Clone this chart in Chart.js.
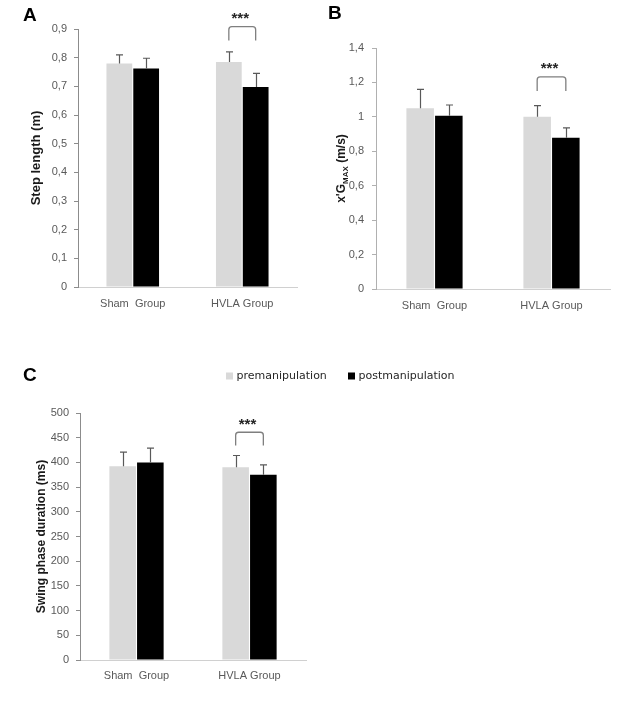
<!DOCTYPE html>
<html>
<head>
<meta charset="utf-8">
<script src="https://cdn.jsdelivr.net/npm/chart.js@4.4.1/dist/chart.umd.min.js"></script>
<style>
  html, body { margin: 0; padding: 0; background: #fff; }
  #page { position: relative; width: 638px; height: 704px; overflow: hidden; background: #fff; }
  .panel { position: absolute; }
</style>
</head>
<body>
<div id="page">
  <canvas id="chartA" class="panel" width="315" height="320" style="left:0;top:0"></canvas>
  <canvas id="chartB" class="panel" width="318" height="320" style="left:320px;top:0"></canvas>
  <canvas id="chartC" class="panel" width="638" height="344" style="left:0;top:360px"></canvas>
</div>
<script>
// categories and series
const groups = ["Sham  Group", "HVLA Group"];
const seriesNames = ["premanipulation", "postmanipulation"];

// A - step length (m)
const stepPre = [0.78, 0.785];
const stepPreSd = [0.03, 0.035];
const stepPost = [0.762, 0.698];
const stepPostSd = [0.036, 0.047];
const stepBracket = [0.86, 0.908];

// B - x'G max (m/s)
const xgPre = [1.05, 1.0];
const xgPreSd = [0.11, 0.065];
const xgPost = [1.007, 0.878];
const xgPostSd = [0.062, 0.058];
const xgBracket = [1.15, 1.232];

// C - swing phase duration (ms)
const swingPre = [392, 390];
const swingPreSd = [29, 24];
const swingPost = [400, 375];
const swingPostSd = [29, 20];
const swingBracket = [434, 461];

const preColor = "#d9d9d9";
const postColor = "#000000";

Chart.defaults.font.family = '"Liberation Sans", Arial, sans-serif';
Chart.defaults.color = "#595959";

const commaFmt = v => String(Math.round(v * 10) / 10).replace(".", ",");

const errorBars = {
  id: "errorBars",
  afterDatasetsDraw(chart) {
    const ctx = chart.ctx;
    const y = chart.scales.y;
    ctx.save();
    ctx.strokeStyle = "#595959";
    ctx.lineWidth = 1.2;
    chart.data.datasets.forEach((ds, i) => {
      chart.getDatasetMeta(i).data.forEach((bar, j) => {
        const x = Math.round(bar.x) + 0.5;
        const top = y.getPixelForValue(ds.data[j] + ds.errors[j]);
        ctx.beginPath();
        ctx.moveTo(x, bar.y);
        ctx.lineTo(x, top);
        ctx.moveTo(x - 3.5, top);
        ctx.lineTo(x + 3.5, top);
        ctx.stroke();
      });
    });
    ctx.restore();
  }
};

const sigBracket = {
  id: "sigBracket",
  afterDraw(chart, args, opts) {
    if (!opts.range) return;
    const ctx = chart.ctx;
    const y = chart.scales.y;
    const x1 = chart.getDatasetMeta(0).data[opts.index].x;
    const x2 = chart.getDatasetMeta(1).data[opts.index].x;
    const yLow = y.getPixelForValue(opts.range[0]);
    const yHigh = y.getPixelForValue(opts.range[1]);
    ctx.save();
    ctx.strokeStyle = "#7f7f7f";
    ctx.lineWidth = 1.3;
    ctx.beginPath();
    ctx.moveTo(x1, yLow);
    ctx.arcTo(x1, yHigh, x2, yHigh, 3);
    ctx.arcTo(x2, yHigh, x2, yLow, 3);
    ctx.lineTo(x2, yLow);
    ctx.stroke();
    ctx.fillStyle = "#262626";
    ctx.font = 'bold 15px "Liberation Sans", Arial, sans-serif';
    ctx.textAlign = "center";
    ctx.textBaseline = "alphabetic";
    ctx.fillText("***", (x1 + x2) / 2 - 2, yHigh - 3.5);
    ctx.restore();
  }
};

const panelLetter = {
  id: "panelLetter",
  afterDraw(chart, args, opts) {
    if (!opts.text) return;
    const ctx = chart.ctx;
    ctx.save();
    ctx.fillStyle = "#000";
    ctx.font = 'bold 19px "Liberation Sans", Arial, sans-serif';
    ctx.textBaseline = "alphabetic";
    ctx.fillText(opts.text, opts.x, opts.y);
    ctx.restore();
  }
};

// rotated y title with a subscript part (panel B)
function makeSubTitle(parts, x) {
  return {
    id: "subTitle",
    afterDraw(chart) {
      const ctx = chart.ctx;
      const area = chart.chartArea;
      ctx.save();
      ctx.fillStyle = "#1a1a1a";
      ctx.textBaseline = "alphabetic";
      const widths = parts.map(p => {
        ctx.font = "bold " + p[1] + 'px "Liberation Sans", Arial, sans-serif';
        return ctx.measureText(p[0]).width;
      });
      const total = widths.reduce((a, b) => a + b, 0);
      ctx.translate(x, (area.top + area.bottom) / 2);
      ctx.rotate(-Math.PI / 2);
      let pos = -total / 2;
      parts.forEach((p, i) => {
        ctx.font = "bold " + p[1] + 'px "Liberation Sans", Arial, sans-serif';
        ctx.fillText(p[0], pos, 4.5 + p[2]);
        pos += widths[i];
      });
      ctx.restore();
    }
  };
}

const topLegend = {
  id: "topLegend",
  afterDraw(chart, args, opts) {
    if (!opts.x) return;
    const ctx = chart.ctx;
    ctx.save();
    ctx.font = '11px "DejaVu Sans", sans-serif';
    ctx.textBaseline = "middle";
    chart.data.datasets.forEach((ds, i) => {
      ctx.fillStyle = ds.backgroundColor;
      ctx.fillRect(opts.x[i], opts.y - 3.5, 7, 7);
      ctx.fillStyle = "#262626";
      ctx.fillText(ds.label, opts.x[i] + 10.5, opts.y);
    });
    ctx.restore();
  }
};

function makeChart(id, p) {
  const extra = p.subTitle ? [makeSubTitle(p.subTitle.parts, p.subTitle.x)] : [];
  return new Chart(document.getElementById(id), {
    type: "bar",
    data: {
      labels: groups,
      datasets: [
        { label: seriesNames[0], data: p.pre, errors: p.preSd, backgroundColor: preColor,
          categoryPercentage: 0.49, barPercentage: 0.96 },
        { label: seriesNames[1], data: p.post, errors: p.postSd, backgroundColor: postColor,
          categoryPercentage: 0.49, barPercentage: 0.96 }
      ]
    },
    options: {
      responsive: false,
      animation: false,
      layout: { padding: p.padding },
      plugins: {
        legend: { display: false },
        tooltip: { enabled: false },
        sigBracket: { index: 1, range: p.bracket },
        panelLetter: p.letter,
        topLegend: p.legend || {}
      },
      scales: {
        x: {
          grid: { display: false },
          border: { display: true, color: "#d0d0d0", width: 1 },
          ticks: { font: { size: 11 }, color: "#595959", padding: p.xPad },
          afterFit: s => { s.height = p.xHeight; }
        },
        y: {
          min: 0,
          max: p.max,
          grid: { display: true, drawOnChartArea: false, drawTicks: true, tickLength: 4, color: p.axisColor },
          border: { display: true, color: p.axisColor, width: 1 },
          ticks: { stepSize: p.step, font: { size: 11 }, color: "#595959", padding: p.yPad, callback: p.fmt },
          title: p.title ? {
            display: true, text: p.title, color: "#1a1a1a",
            font: { size: p.titleSize, weight: "bold" },
            padding: { top: p.titlePad, bottom: 0 }
          } : { display: false },
          afterFit: s => { s.width = p.yWidth; }
        }
      }
    },
    plugins: [errorBars, sigBracket, panelLetter, topLegend].concat(extra)
  });
}

makeChart("chartA", {
  pre: stepPre, preSd: stepPreSd, post: stepPost, postSd: stepPostSd, bracket: stepBracket,
  max: 0.9, step: 0.1, fmt: commaFmt,
  padding: { left: 0, top: 29, right: 18, bottom: 0 },
  yWidth: 78, xHeight: 33, xPad: 2, yPad: 7, axisColor: "#8c8c8c",
  title: "Step length (m)", titleSize: 13, titlePad: 29,
  letter: { text: "A", x: 23, y: 21 }
});

makeChart("chartB", {
  pre: xgPre, preSd: xgPreSd, post: xgPost, postSd: xgPostSd, bracket: xgBracket,
  max: 1.4, step: 0.2, fmt: commaFmt,
  padding: { left: 0, top: 48, right: 28, bottom: 0 },
  yWidth: 56, xHeight: 31, xPad: 2, yPad: 8, axisColor: "#b0b0b0",
  subTitle: { x: 20, parts: [["x'G", 12, 0], ["MAX", 8, 3], [" (m/s)", 12, 0]] },
  letter: { text: "B", x: 8, y: 19 }
});

makeChart("chartC", {
  pre: swingPre, preSd: swingPreSd, post: swingPost, postSd: swingPostSd, bracket: swingBracket,
  max: 500, step: 50, fmt: v => String(v),
  padding: { left: 0, top: 53, right: 332, bottom: 0 },
  yWidth: 80, xHeight: 44, xPad: 1, yPad: 7, axisColor: "#8c8c8c",
  title: "Swing phase duration (ms)", titleSize: 12, titlePad: 34,
  letter: { text: "C", x: 23, y: 21 },
  legend: { x: [226, 348], y: 16 }
});
</script>
</body>
</html>
